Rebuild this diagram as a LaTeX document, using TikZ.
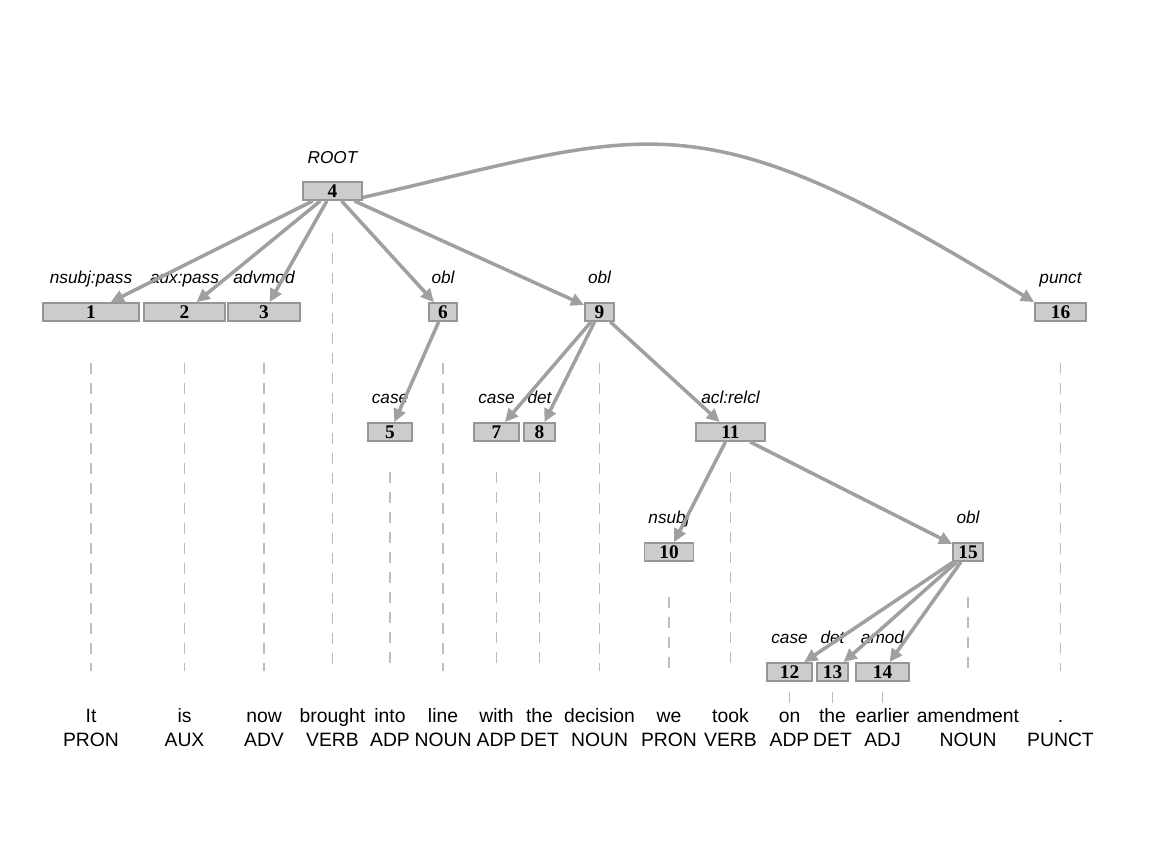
\documentclass[tikz,border=0pt]{standalone}
\usepackage{fontspec}
\setmainfont{Liberation Serif}
\newfontfamily\arial{Liberation Sans}
\usetikzlibrary{arrows.meta}
\definecolor{depgray}{RGB}{160,160,160}
\definecolor{boxfill}{RGB}{204,204,204}
\definecolor{boxline}{RGB}{150,150,150}
\definecolor{guidegray}{RGB}{190,190,190}
\begin{document}
\begin{tikzpicture}[
    box/.style={draw=boxline,fill=boxfill,line width=1pt,inner sep=0pt,minimum height=0.36cm,font=\bfseries\fontsize{11}{11}\selectfont},
    rel/.style={anchor=base,inner sep=0pt,font=\arial\itshape\fontsize{9.8}{10}\selectfont},
    word/.style={anchor=base,inner sep=0pt,font=\arial\fontsize{11}{12}\selectfont},
    dep/.style={draw=depgray,line width=2pt,-{Triangle[length=7.5pt,width=7pt]}},
    guide/.style={draw=guidegray,line width=0.8pt,dash pattern=on 0.22cm off 0.18cm}]
    \useasboundingbox (0,0) rectangle (23.04,-17.28);

    % tokens
    \node[box,minimum width=1.18cm] (n4) at (6.65,-3.82) {4};
    \node[box,minimum width=1.92cm] (n1) at (1.82,-6.24) {1};
    \node[box,minimum width=1.62cm] (n2) at (3.69,-6.24) {2};
    \node[box,minimum width=1.44cm] (n3) at (5.28,-6.24) {3};
    \node[box,minimum width=0.56cm] (n6) at (8.86,-6.24) {6};
    \node[box,minimum width=0.58cm] (n9) at (11.99,-6.24) {9};
    \node[box,minimum width=1.02cm] (n16) at (21.21,-6.24) {16};
    \node[box,minimum width=0.88cm] (n5) at (7.80,-8.64) {5};
    \node[box,minimum width=0.90cm] (n7) at (9.93,-8.64) {7};
    \node[box,minimum width=0.62cm] (n8) at (10.79,-8.64) {8};
    \node[box,minimum width=1.38cm] (n11) at (14.61,-8.64) {11};
    \node[box,minimum width=0.98cm] (n10) at (13.38,-11.04) {10};
    \node[box,minimum width=0.60cm] (n15) at (19.36,-11.04) {15};
    \node[box,minimum width=0.90cm] (n12) at (15.79,-13.44) {12};
    \node[box,minimum width=0.62cm] (n13) at (16.65,-13.44) {13};
    \node[box,minimum width=1.06cm] (n14) at (17.65,-13.44) {14};

    % relations
    \node[rel] (r4) at (6.65,-3.26) {ROOT};
    \node[rel] (r1) at (1.82,-5.66) {nsubj:pass};
    \node[rel] (r2) at (3.69,-5.66) {aux:pass};
    \node[rel] (r3) at (5.28,-5.66) {advmod};
    \node[rel] (r6) at (8.86,-5.66) {obl};
    \node[rel] (r9) at (11.99,-5.66) {obl};
    \node[rel] (r16) at (21.21,-5.66) {punct};
    \node[rel] (r5) at (7.80,-8.06) {case};
    \node[rel] (r7) at (9.93,-8.06) {case};
    \node[rel] (r8) at (10.79,-8.06) {det};
    \node[rel] (r11) at (14.61,-8.06) {acl:relcl};
    \node[rel] (r10) at (13.38,-10.46) {nsubj};
    \node[rel] (r15) at (19.36,-10.46) {obl};
    \node[rel] (r12) at (15.79,-12.86) {case};
    \node[rel] (r13) at (16.65,-12.86) {det};
    \node[rel] (r14) at (17.65,-12.86) {amod};

    % words and tags
    \node[word] (w1) at (1.82,-14.44) {It};
    \node[word] (t1) at (1.82,-14.92) {PRON};
    \node[word] (w2) at (3.69,-14.44) {is};
    \node[word] (t2) at (3.69,-14.92) {AUX};
    \node[word] (w3) at (5.28,-14.44) {now};
    \node[word] (t3) at (5.28,-14.92) {ADV};
    \node[word] (w4) at (6.65,-14.44) {brought};
    \node[word] (t4) at (6.65,-14.92) {VERB};
    \node[word] (w5) at (7.80,-14.44) {into};
    \node[word] (t5) at (7.80,-14.92) {ADP};
    \node[word] (w6) at (8.86,-14.44) {line};
    \node[word] (t6) at (8.86,-14.92) {NOUN};
    \node[word] (w7) at (9.93,-14.44) {with};
    \node[word] (t7) at (9.93,-14.92) {ADP};
    \node[word] (w8) at (10.79,-14.44) {the};
    \node[word] (t8) at (10.79,-14.92) {DET};
    \node[word] (w9) at (11.99,-14.44) {decision};
    \node[word] (t9) at (11.99,-14.92) {NOUN};
    \node[word] (w10) at (13.38,-14.44) {we};
    \node[word] (t10) at (13.38,-14.92) {PRON};
    \node[word] (w11) at (14.61,-14.44) {took};
    \node[word] (t11) at (14.61,-14.92) {VERB};
    \node[word] (w12) at (15.79,-14.44) {on};
    \node[word] (t12) at (15.79,-14.92) {ADP};
    \node[word] (w13) at (16.65,-14.44) {the};
    \node[word] (t13) at (16.65,-14.92) {DET};
    \node[word] (w14) at (17.65,-14.44) {earlier};
    \node[word] (t14) at (17.65,-14.92) {ADJ};
    \node[word] (w15) at (19.36,-14.44) {amendment};
    \node[word] (t15) at (19.36,-14.92) {NOUN};
    \node[word] (w16) at (21.21,-14.44) {.};
    \node[word] (t16) at (21.21,-14.92) {PUNCT};

    % guide lines
    \coordinate (bot) at (0,-13.42);
    \coordinate (bot2) at (0,-14.08);
    \draw[guide] (n4) ++(0,-0.84) -- (n4 |- bot);
    \draw[guide] (n1) ++(0,-1.02) -- (n1 |- bot);
    \draw[guide] (n2) ++(0,-1.02) -- (n2 |- bot);
    \draw[guide] (n3) ++(0,-1.02) -- (n3 |- bot);
    \draw[guide] (n6) ++(0,-1.02) -- (n6 |- bot);
    \draw[guide] (n9) ++(0,-1.02) -- (n9 |- bot);
    \draw[guide] (n16) ++(0,-1.02) -- (n16 |- bot);
    \draw[guide] (n5) ++(0,-0.80) -- (n5 |- bot);
    \draw[guide] (n7) ++(0,-0.80) -- (n7 |- bot);
    \draw[guide] (n8) ++(0,-0.80) -- (n8 |- bot);
    \draw[guide] (n11) ++(0,-0.80) -- (n11 |- bot);
    \draw[guide] (n10) ++(0,-0.90) -- (n10 |- bot);
    \draw[guide] (n15) ++(0,-0.90) -- (n15 |- bot);
    \draw[guide] (n12) ++(0,-0.40) -- (n12 |- bot2);
    \draw[guide] (n13) ++(0,-0.40) -- (n13 |- bot2);
    \draw[guide] (n14) ++(0,-0.40) -- (n14 |- bot2);

    % dependencies
    \draw[dep] (n4) -- (n1);
    \draw[dep] (n4) -- (n2);
    \draw[dep] (n4) -- (n3);
    \draw[dep] (n4) -- (n6);
    \draw[dep] (n4) -- (n9);
    \draw[dep] (n6) -- (n5);
    \draw[dep] (n9) -- (n7);
    \draw[dep] (n9) -- (n8);
    \draw[dep] (n9) -- (n11);
    \draw[dep] (n11) -- (n10);
    \draw[dep] (n11) -- (n15);
    \draw[dep] (n15) -- (n12);
    \draw[dep] (n15) -- (n13);
    \draw[dep] (n15) -- (n14);
    \draw[dep] (n4.-12) .. controls (13.08,-2.61) and (13.90,-1.86) .. (n16.north west);
\end{tikzpicture}
\end{document}
